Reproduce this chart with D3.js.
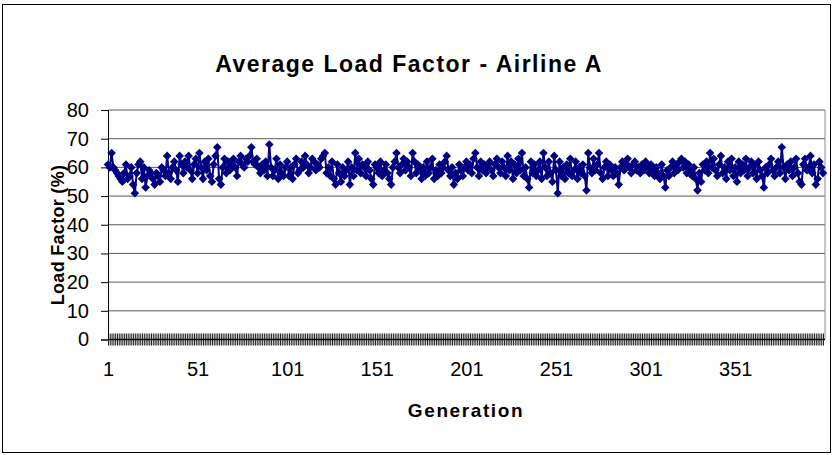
<!DOCTYPE html>
<html>
<head>
<meta charset="utf-8">
<script src="https://cdn.jsdelivr.net/npm/d3@7"></script>
<style>
  body { margin: 0; background: #fff; }
  svg { display: block; font-family: Arial, "Liberation Sans", sans-serif; }
</style>
</head>
<body>
<div id="chart"></div>
<script>
// Average load factor per generation
const loadFactor = [
  61, 60, 65, 60, 59, 58, 57, 56, 55, 58, 61, 56, 57, 60, 54, 51, 58, 61, 62, 56,
  60, 53, 57, 59, 58, 56, 54, 58, 57, 55, 60, 59, 57, 64, 58, 56, 60, 62, 59, 55,
  64, 61, 58, 62, 60, 64, 59, 56, 61, 63, 58, 65, 60, 56, 62, 59, 63, 57, 55, 61,
  64, 67, 56, 54, 60, 63, 58, 62, 59, 61, 63, 60, 57, 62, 64, 61, 60, 63, 62, 64,
  67, 62, 61, 63, 60, 58, 61, 59, 62, 57, 68, 60, 57, 59, 63, 56, 61, 58, 57, 60,
  62, 57, 60, 56, 61, 63, 58, 59, 62, 60, 64, 61, 58, 60, 63, 62, 59, 61, 60, 63,
  64, 65, 58, 60, 57, 62, 56, 54, 61, 58, 55, 60, 57, 59, 62, 54, 60, 57, 65, 59,
  63, 58, 61, 60, 57, 62, 59, 56, 54, 61, 60, 58, 62, 57, 59, 61, 58, 56, 54, 60,
  62, 65, 60, 58, 61, 63, 59, 62, 60, 57, 65, 62, 58, 61, 59, 56, 60, 57, 62, 58,
  60, 63, 56, 59, 57, 61, 58, 60, 62, 64, 59, 57, 60, 54, 58, 56, 61, 59, 57, 60,
  62, 59, 61, 58, 63, 65, 60, 57, 62, 59, 61, 58, 60, 62, 59, 57, 61, 63, 60, 58,
  62, 60, 57, 64, 59, 62, 56, 61, 58, 63, 59, 65, 57, 60, 56, 53, 62, 58, 61, 57,
  59, 62, 56, 65, 60, 57, 62, 58, 55, 64, 59, 51, 62, 57, 60, 56, 61, 58, 63, 57,
  59, 62, 56, 60, 58, 61, 57, 52, 65, 60, 58, 63, 59, 61, 65, 58, 56, 60, 62, 57,
  61, 59, 57, 60, 58, 54, 60, 62, 59, 61, 63, 60, 58, 61, 62, 59, 60, 58, 61, 59,
  62, 60, 58, 61, 59, 57, 60, 58, 56, 61, 57, 53, 59, 57, 60, 62, 58, 61, 59, 62,
  63, 60, 62, 58, 61, 59, 57, 60, 56, 52, 58, 55, 61, 59, 62, 58, 65, 60, 63, 59,
  57, 61, 64, 58, 60, 56, 62, 59, 63, 57, 60, 55, 62, 58, 61, 59, 63, 57, 60, 62,
  58, 61, 56, 62, 59, 57, 53, 60, 58, 61, 63, 59, 57, 60, 62, 58, 67, 60, 56, 61,
  59, 62, 57, 60, 63, 58, 55, 54, 61, 63, 59, 60, 64, 58, 61, 54, 56, 62, 60, 58
];
const generations = loadFactor.map((d, i) => i + 1);
const xTickLabels = [1, 51, 101, 151, 201, 251, 301, 351];
const yTicks = [0, 10, 20, 30, 40, 50, 60, 70, 80];

const width = 832;
const height = 455;
const plot = { left: 108, right: 825, top: 110, bottom: 339.5 };
const font = 'Arial, "Liberation Sans", sans-serif';

const svg = d3.select('#chart')
    .append('svg')
    .attr('width', width)
    .attr('height', height);

// outer chart border
svg.append('rect')
    .attr('x', 2.5)
    .attr('y', 4.5)
    .attr('width', 828)
    .attr('height', 448)
    .attr('fill', 'none')
    .attr('stroke', '#000')
    .attr('stroke-width', 1);

const xScale = d3.scalePoint()
    .domain(generations)
    .range([plot.left, plot.right - 2]);

const yScale = d3.scaleLinear()
    .domain([0, 80])
    .range([plot.bottom, plot.top]);

// gridlines
svg.append('g')
    .selectAll('line')
    .data(yTicks.filter(d => d > 0))
    .enter()
    .append('line')
    .attr('x1', plot.left)
    .attr('x2', plot.right)
    .attr('y1', d => yScale(d))
    .attr('y2', d => yScale(d))
    .attr('stroke', '#5a5a5a')
    .attr('stroke-width', 1);

// plot area right edge
svg.append('line')
    .attr('x1', plot.right)
    .attr('x2', plot.right)
    .attr('y1', plot.top)
    .attr('y2', plot.bottom)
    .attr('stroke', '#8a8a8a');

// y axis
const yAxis = d3.axisLeft(yScale)
    .tickValues(yTicks)
    .tickSize(7)
    .tickPadding(12);

svg.append('g')
    .attr('transform', `translate(${plot.left}, 0)`)
    .call(yAxis)
    .call(g => g.selectAll('text').attr('font-size', 20).attr('font-family', font).attr('fill', '#000'))
    .call(g => g.select('.domain').attr('stroke', '#000'));

// x axis: a tick for every generation, crossing the axis
const xAxis = d3.axisBottom(xScale)
    .tickValues(generations)
    .tickSize(6)
    .tickPadding(16)
    .tickFormat(d => xTickLabels.includes(d) ? d : '');

svg.append('g')
    .attr('transform', `translate(0, ${plot.bottom})`)
    .call(xAxis)
    .call(g => g.select('.domain').attr('d', `M${plot.left},0H${plot.right}`).attr('stroke', '#000').attr('stroke-width', 1.5))
    .call(g => g.selectAll('.tick line').attr('y1', -6).attr('stroke', '#000').attr('stroke-width', 0.9))
    .call(g => g.selectAll('text').attr('font-size', 20).attr('font-family', font).attr('fill', '#000'));

// series line
const line = d3.line()
    .x((d, i) => xScale(generations[i]))
    .y(d => yScale(d));

svg.append('path')
    .datum(loadFactor)
    .attr('d', line)
    .attr('fill', 'none')
    .attr('stroke', '#000080')
    .attr('stroke-width', 2);

// diamond markers
svg.append('g')
    .selectAll('path')
    .data(loadFactor)
    .enter()
    .append('path')
    .attr('transform', (d, i) => `translate(${xScale(generations[i])}, ${yScale(d)})`)
    .attr('d', 'M0,-4.3L4.3,0L0,4.3L-4.3,0Z')
    .attr('fill', '#000080');

// titles
svg.append('text')
    .attr('x', 409)
    .attr('y', 72)
    .attr('text-anchor', 'middle')
    .attr('font-size', 23)
    .attr('font-weight', 'bold')
    .attr('letter-spacing', 1.5)
    .text('Average Load Factor - Airline A');

svg.append('text')
    .attr('x', 466)
    .attr('y', 417)
    .attr('text-anchor', 'middle')
    .attr('font-size', 19)
    .attr('font-weight', 'bold')
    .attr('letter-spacing', 1.6)
    .text('Generation');

svg.append('text')
    .attr('transform', 'translate(64, 235) rotate(-90)')
    .attr('text-anchor', 'middle')
    .attr('font-size', 18)
    .attr('font-weight', 'bold')
    .attr('letter-spacing', 0.3)
    .text('Load Factor (%)');
</script>
</body>
</html>
